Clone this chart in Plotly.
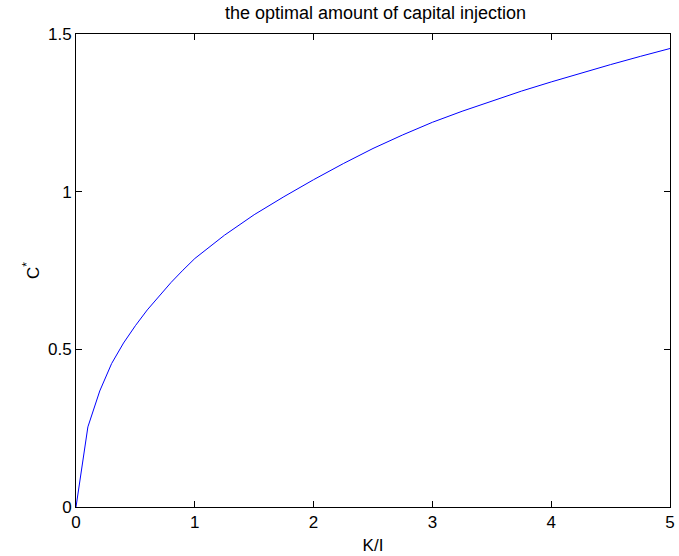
import plotly.graph_objects as go

# K/I ratio and the optimal capital injection C*
k_over_i = [0, 0.1, 0.2, 0.3, 0.4, 0.5, 0.6, 0.7, 0.8, 0.9, 1.0,
            1.25, 1.5, 1.75, 2.0, 2.25, 2.5, 2.75, 3.0, 3.25, 3.5, 3.75,
            4.0, 4.25, 4.5, 4.75, 5.0]
c_star = [0, 0.254, 0.368, 0.455, 0.52, 0.575, 0.625, 0.67, 0.712, 0.751, 0.788,
          0.862, 0.927, 0.984, 1.038, 1.089, 1.137, 1.18, 1.22, 1.255, 1.288, 1.319,
          1.348, 1.376, 1.403, 1.429, 1.454]

x_ticks = [0, 1, 2, 3, 4, 5]
y_ticks = [0, 0.5, 1, 1.5]

FONT = "Liberation Sans, Arial, Helvetica"

fig = go.Figure(go.Scatter(
    x=k_over_i, y=c_star, mode="lines",
    line=dict(color="#0000ff", width=1),
    showlegend=False,
))

axis_common = dict(
    showline=True, linecolor="black", linewidth=1, mirror="allticks",
    ticks="inside", ticklen=6, tickwidth=1, tickcolor="black",
    showgrid=False, zeroline=False, ticklabeloverflow="allow",
    tickfont=dict(family=FONT, size=17, color="black"),
)

fig.update_layout(
    width=679, height=556,
    margin=dict(l=76, r=4, t=34, b=49),
    paper_bgcolor="white", plot_bgcolor="white",
    title=dict(text="the optimal amount of capital injection",
               x=0.553, xanchor="center", y=0.978, yanchor="middle",
               font=dict(family=FONT, size=18, color="black")),
    xaxis=dict(range=[0, 5], tickvals=x_ticks, ticktext=[str(v) for v in x_ticks],
               title=dict(text="K/I", standoff=7,
                          font=dict(family=FONT, size=17, color="black")),
               **axis_common),
    yaxis=dict(range=[0, 1.5], tickvals=y_ticks, ticktext=["0", "0.5", "1", "1.5"],
               title=dict(text="C<sup>*</sup>", standoff=4,
                          font=dict(family=FONT, size=17, color="black")),
               **axis_common),
)

fig.write_html("out.html")
